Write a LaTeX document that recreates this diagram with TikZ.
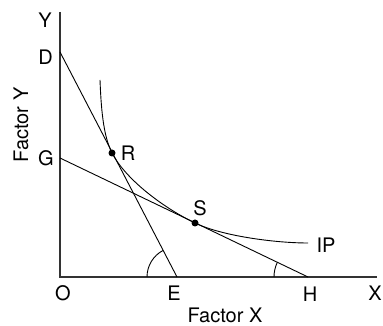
\documentclass[tikz,border=0pt]{standalone}
\usepackage{fontspec}
\setmainfont{TeX Gyre Heros}
\usetikzlibrary{arrows.meta}

\begin{document}
\begin{tikzpicture}[x=1pt,y=1pt,line width=0.9pt,
  lbl/.style={font=\fontsize{20}{22}\selectfont,inner sep=0pt},
  axis/.style={line width=1.2pt,black!80},
  dot/.style={circle,fill=black,inner sep=0pt,minimum size=7pt}]
\useasboundingbox (0,0) rectangle (383,326);
% 坐标点
\coordinate (O) at (60,49);
\coordinate (Ytop) at (60,314);
\coordinate (Xend) at (377,49);
\coordinate (D) at (60,274);
\coordinate (G) at (60,168);
\coordinate (E) at (177,49);
\coordinate (H) at (308,49);
\coordinate (IPs) at (100,246);
\coordinate (IPe) at (308,83);
% 坐标轴
\draw[axis] (Ytop) -- (O) -- (Xend);
% 两条等成本线
\draw (D) -- (E);
\draw (G) -- (H);
% 切点
\node[dot] (R) at (112,173) {};
\node[dot] (S) at (195,103) {};
% 等产量线 IP
\draw (IPs) .. controls (101,221) and (102.8,190.7) .. (R.center)
  .. controls (125.8,146.4) and (163.4,118.2) .. (S.center)
  .. controls (222,90) and (275,83) .. (IPe);
% 角度弧
\draw (E) ++(180:30) arc (180:117.5:30);
\draw (H) ++(180:34) arc (180:154.4:34);
% 标注
\node[lbl] (lY) at (45,306) {Y};
\node[lbl] (lD) at (45.5,269) {D};
\node[lbl] (lG) at (46,168) {G};
\node[lbl] (lR) at (128,173) {R};
\node[lbl] (lS) at (200,118) {S};
\node[lbl] (lIP) at (326,81) {IP};
\node[lbl] (lO) at (63,33) {O};
\node[lbl] (lE) at (174,33) {E};
\node[lbl] (lH) at (310,32) {H};
\node[lbl] (lX) at (375,33) {X};
\node[lbl] (fX) at (225,11) {Factor X};
\node[lbl,rotate=90] (fY) at (21,201) {Factor Y};
\end{tikzpicture}
\end{document}
